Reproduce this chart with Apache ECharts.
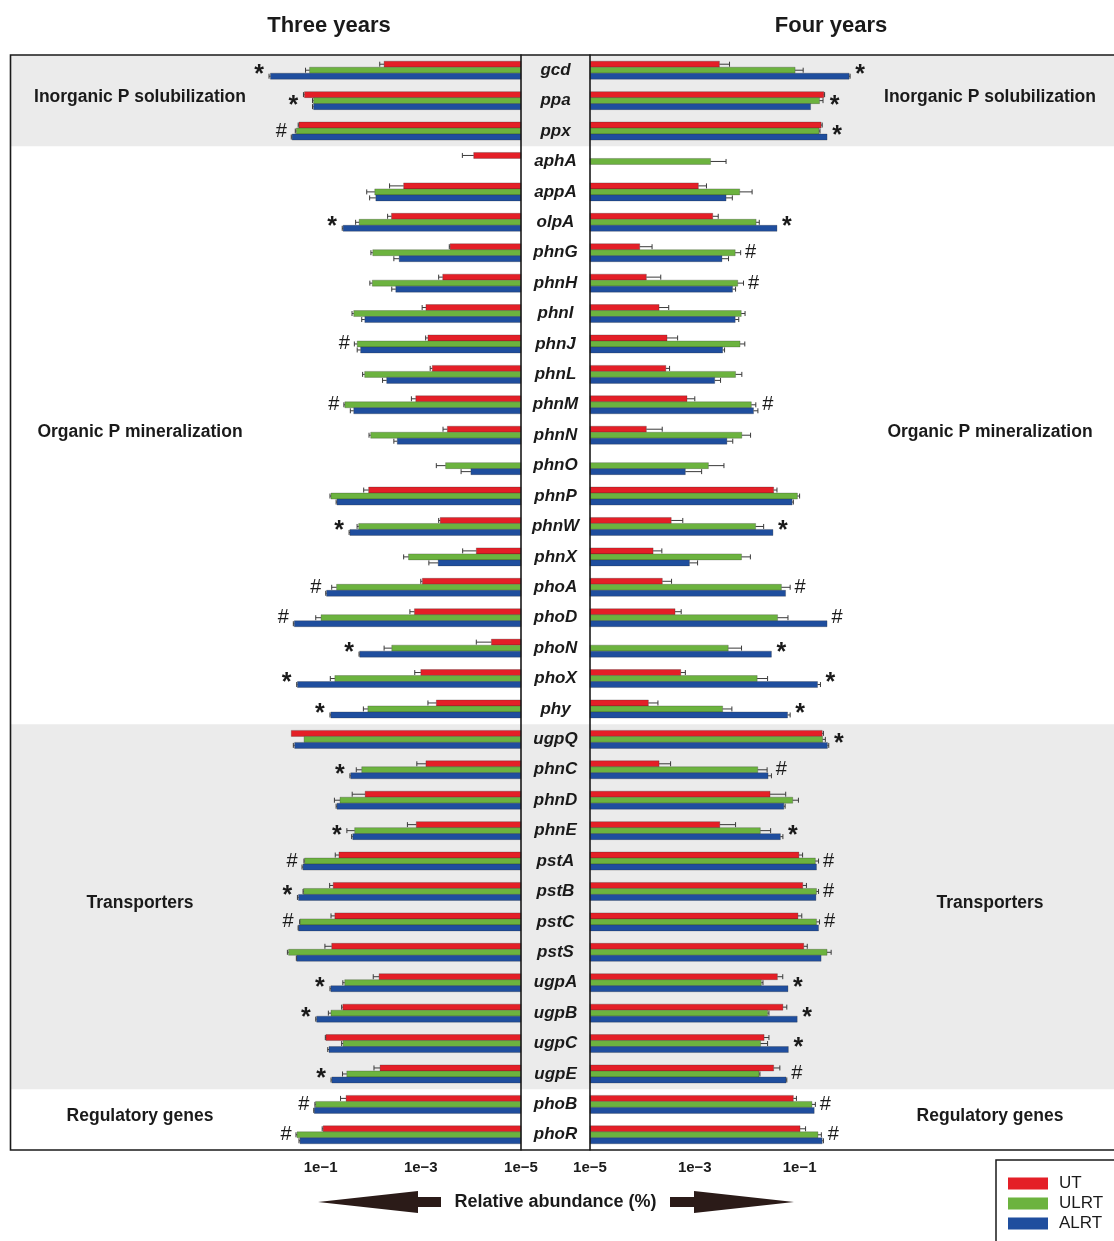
<!DOCTYPE html>
<html><head><meta charset="utf-8">
<script src="https://cdn.jsdelivr.net/npm/echarts@6/dist/echarts.min.js"></script>
<style>html,body{margin:0;padding:0;background:#fff}#c{width:1114px;height:1241px}</style>
</head><body><div id="c"></div>
<script>
const genes = ['gcd','ppa','ppx','aphA','appA','olpA','phnG','phnH','phnI','phnJ','phnL','phnM','phnN','phnO','phnP','phnW','phnX','phoA','phoD','phoN','phoX','phy','ugpQ','phnC','phnD','phnE','pstA','pstB','pstC','pstS','ugpA','ugpB','ugpC','ugpE','phoB','phoR'];
const seriesNames = ['UT','ULRT','ALRT'];
const xTickValues = [1e-5, 1e-3, 1e-1];

// Three years (left panel): mean relative abundance (%) and upper error
const UT3 = [0.0054,0.21,0.27,8.8e-5,2.2e-3,3.85e-3,2.6e-4,3.65e-4,7.9e-4,7.2e-4,5.9e-4,1.26e-3,2.95e-4,null,0.011,4.1e-4,7.8e-5,9.3e-4,1.34e-3,3.9e-5,1.0e-3,4.9e-4,0.385,7.9e-4,0.0129,1.23e-3,0.043,0.056,0.052,0.060,6.8e-3,0.036,0.0785,6.5e-3,0.031,0.089];
const UT3err = [0.0012,0.01,0.01,6e-5,2.0e-3,7.5e-4,1e-5,7.5e-5,1.5e-4,8e-5,6e-5,2.8e-4,6.5e-5,null,0.0028,3e-5,6.8e-5,7e-5,3.1e-4,3.9e-5,3.2e-4,2.3e-4,0,4.1e-4,0.0105,6.2e-4,0.008,0.010,0.010,0.022,2.1e-3,0.002,0.002,2.1e-3,0.009,0.004];
const ULRT3 = [0.166,0.138,0.305,null,8.3e-3,0.017,9.1e-3,9.3e-3,0.0218,0.0186,0.0132,0.0328,0.010,3.2e-4,0.062,0.0174,1.76e-3,0.048,0.098,3.8e-3,0.052,0.0114,0.214,0.0151,0.041,0.0209,0.209,0.219,0.257,0.436,0.033,0.062,0.0355,0.030,0.126,0.295];
const ULRT3err = [0.034,0.007,0.015,null,3.7e-3,0.003,8e-4,1.1e-3,1.8e-3,2.6e-3,1.3e-3,1.5e-3,8e-4,1.7e-4,0.003,1.3e-3,4.4e-4,0.012,0.027,1.6e-3,0.012,2.6e-3,0,4.3e-3,0.012,9e-3,0.006,0.005,0.005,0.024,0.003,0.008,0.0025,0.0065,0.004,0.015];
const ALRT3 = [1.0,0.138,0.37,null,7.9e-3,0.0355,2.7e-3,3.16e-3,0.0131,0.0159,4.8e-3,0.0218,2.95e-3,1.0e-4,0.047,0.026,4.5e-4,0.076,0.335,0.0166,0.29,0.0624,0.33,0.025,0.047,0.0228,0.224,0.276,0.276,0.30,0.0624,0.12,0.068,0.0596,0.134,0.257];
const ALRT3err = [0.07,0.007,0.015,null,2.6e-3,0.0015,7.5e-4,6.4e-4,2e-3,2.7e-3,1e-3,3.7e-3,5e-4,5.7e-5,0.002,0.001,2.4e-4,0.003,0.015,0.0005,0.01,0.0026,0.02,0.001,0.002,0.0012,0.011,0.014,0.005,0.005,0.0026,0.005,0.004,0.0024,0.003,0.013];
const marks3 = ['*','*','#','','','*','','','','#','','#','','','','*','','#','#','*','*','*','','*','','*','#','*','#','','*','*','','*','#','#'];

// Four years (right panel)
const UT4 = [2.95e-3,0.29,0.257,null,1.17e-3,2.2e-3,8.9e-5,1.19e-4,2.08e-4,2.95e-4,2.8e-4,7.1e-4,1.19e-4,null,0.032,3.55e-4,1.6e-4,2.4e-4,4.2e-4,null,5.4e-4,1.3e-4,0.27,2.08e-4,0.0273,3.0e-3,0.097,0.115,0.093,0.12,0.0377,0.048,0.021,0.032,0.076,0.102];
const UT4err = [1.65e-3,0.01,0.013,null,5e-4,6e-4,6.4e-5,1.05e-4,1.1e-4,1.75e-4,5e-5,2.9e-4,1.2e-4,null,0.005,2.35e-4,7.5e-5,1.2e-4,1.3e-4,null,1.2e-4,6.8e-5,0.015,1.37e-4,0.027,3.0e-3,0.017,0.02,0.017,0.02,0.01,0.009,0.005,0.01,0.011,0.028];
const ULRT4 = [0.082,0.24,0.234,2.0e-3,7.2e-3,0.0148,5.9e-3,6.6e-3,7.7e-3,7.3e-3,6.0e-3,0.012,7.9e-3,1.82e-3,0.091,0.0145,7.8e-3,0.045,0.038,4.35e-3,0.0155,3.4e-3,0.275,0.0159,0.074,0.0178,0.20,0.21,0.21,0.334,0.0186,0.0245,0.018,0.0168,0.172,0.224];
const ULRT4err = [0.035,0.04,0.011,1.95e-3,5.2e-3,0.0022,1.6e-3,1.9e-3,1.4e-3,1.7e-3,1.9e-3,0.0026,3.7e-3,1.78e-3,0.009,0.0061,3.7e-3,0.021,0.022,3.45e-3,0.009,1.7e-3,0.035,0.0081,0.021,0.0102,0.03,0.02,0.03,0.066,0.0014,0.0015,0.0065,0.0007,0.028,0.036];
const ALRT4 = [0.88,0.162,0.334,null,3.95e-3,0.037,3.3e-3,5.25e-3,5.9e-3,3.4e-3,2.4e-3,0.0132,4.1e-3,6.6e-4,0.072,0.031,7.9e-4,0.054,0.334,0.029,0.22,0.059,0.34,0.025,0.050,0.043,0.21,0.205,0.23,0.257,0.060,0.090,0.061,0.055,0.19,0.27];
const ALRT4err = [0.04,0,0,null,1.25e-3,0,1.1e-3,7.5e-4,1e-3,3e-4,7e-4,0.0028,1.2e-3,6.9e-4,0.004,0,3.4e-4,0,0,0,0.03,0.007,0.02,0.004,0.003,0.005,0,0,0,0,0,0,0,0.002,0,0.015];
const marks4 = ['*','*','*','','','*','#','#','','','','#','','','','*','','#','#','*','*','*','*','#','','*','#','#','#','','*','*','*','#','#','#'];

// Functional groups
const groupNames = ['Inorganic P solubilization','Organic P mineralization','Transporters','Regulatory genes'];
const groupFirst = ['gcd','aphA','ugpQ','phoB'];
const groupLast = ['ppx','phy','ugpE','phoR'];
const groupShaded = [true,false,true,false];

const COLORS = ['#e41f27','#6cb33f','#1f4e9e'];
const AXIS_MIN = 1e-5, AXIS_MAX = 1e5;
const BAR_H = 6;
const FONT = '"Liberation Sans", Arial, Helvetica, sans-serif';

function barRender(si){
  return function(params, api){
    const idx = api.value(0), v = api.value(1), e = api.value(2);
    const end = api.coord([v, idx]);
    const base = api.coord([AXIS_MIN, idx]);
    const yc = end[1] + (si - 1) * BAR_H;
    const x0 = Math.min(base[0], end[0]);
    const w = Math.abs(end[0] - base[0]);
    const ch = [{type:'rect', shape:{x:x0, y:yc - BAR_H/2, width:w, height:BAR_H},
      style:{fill: api.visual('color'), stroke:'rgba(40,40,40,0.45)', lineWidth:0.6}}];
    if (e > 0) {
      const ce = api.coord([v + e, idx]);
      ch.push({type:'line', shape:{x1:end[0], y1:yc, x2:ce[0], y2:yc}, style:{stroke:'#3a3a3a', lineWidth:1}});
      ch.push({type:'line', shape:{x1:ce[0], y1:yc-2.5, x2:ce[0], y2:yc+2.5}, style:{stroke:'#3a3a3a', lineWidth:1}});
    }
    return {type:'group', children:ch};
  };
}

function markRender(marks, dir){
  return function(params, api){
    const idx = api.value(0);
    const p = api.coord([api.value(1), idx]);
    const m = marks[idx];
    const star = m === '*';
    return {type:'text', x: p[0] + dir * 10, y: p[1] + (star ? 5 : 0),
      style:{text:m, align:'center', verticalAlign:'middle', fill:'#1a1a1a',
        font: (star ? 'bold 25px ' : 'normal 20px ') + FONT}};
  };
}

const panels = [
  {vals:[UT3, ULRT3, ALRT3], errs:[UT3err, ULRT3err, ALRT3err], marks:marks3, dir:-1},
  {vals:[UT4, ULRT4, ALRT4], errs:[UT4err, ULRT4err, ALRT4err], marks:marks4, dir:1}
];

const series = [];
// background bands and group labels
series.push({
  type:'custom', name:'groups', xAxisIndex:2, yAxisIndex:2, z:0, silent:true,
  data: groupNames.map((n, i) => [genes.indexOf(groupFirst[i]), genes.indexOf(groupLast[i])]),
  encode:{y:[0,1]},
  renderItem(params, api){
    const cs = params.coordSys;
    const gi = params.dataIndex;
    const band = api.size([0, 1])[1];
    const y0 = api.coord([0, api.value(0)])[1] - band/2;
    const y1 = api.coord([0, api.value(1)])[1] + band/2;
    const ym = (y0 + y1)/2 - 3;
    const font = 'bold 17.5px ' + FONT;
    const ch = [];
    if (groupShaded[gi]) ch.push({type:'rect', shape:{x:cs.x, y:y0, width:cs.width, height:y1-y0}, style:{fill:'#ebebeb'}});
    ch.push({type:'text', x: cs.x + 130, y: ym, style:{text:groupNames[gi], align:'center', verticalAlign:'middle', font, fill:'#1a1a1a'}});
    ch.push({type:'text', x: cs.x + cs.width - 124, y: ym, style:{text:groupNames[gi], align:'center', verticalAlign:'middle', font, fill:'#1a1a1a'}});
    return {type:'group', children:ch};
  }
});
// frame
series.push({
  type:'custom', name:'frame', xAxisIndex:2, yAxisIndex:2, z:6, silent:true,
  data:[[0]],
  renderItem(params){
    const cs = params.coordSys;
    return {type:'rect', shape:{x:cs.x + 0.5, y:cs.y, width:cs.width + 10, height:cs.height}, style:{fill:null, stroke:'#1a1a1a', lineWidth:1.6}};
  }
});

panels.forEach((p, pi) => {
  for (let si = 0; si < 3; si++) {
    const data = [];
    genes.forEach((g, i) => { if (p.vals[si][i] != null) data.push([i, p.vals[si][i], p.errs[si][i] || 0]); });
    series.push({
      type:'custom', name:seriesNames[si], xAxisIndex:pi, yAxisIndex:pi, z:2,
      itemStyle:{color:COLORS[si]}, encode:{x:1, y:0}, clip:false,
      renderItem: barRender(si), data
    });
  }
  const mdata = [];
  genes.forEach((g, i) => {
    if (!p.marks[i]) return;
    let mx = 0;
    for (let si = 0; si < 3; si++) if (p.vals[si][i] != null) mx = Math.max(mx, p.vals[si][i] + (p.errs[si][i] || 0));
    mdata.push([i, mx]);
  });
  series.push({type:'custom', name:'sig' + pi, xAxisIndex:pi, yAxisIndex:pi, z:4, clip:false,
    encode:{x:1, y:0}, renderItem: markRender(p.marks, p.dir), data: mdata});
});

const fmt = v => { const e = Math.round(Math.log10(v)); return '1e' + (e < 0 ? '\u2212' + (-e) : e); };
function xAxisFor(gi, inverse){
  return {
    type:'log', gridIndex:gi, min:AXIS_MIN, max:AXIS_MAX, logBase:10, inverse, z:5,
    axisLine:{lineStyle:{color:'#1a1a1a', width:1.6}},
    axisTick:{length:7, lineStyle:{color:'#1a1a1a', width:1.6}, customValues:xTickValues},
    axisLabel:{customValues:xTickValues, formatter:fmt, color:'#1a1a1a', fontFamily:FONT, fontWeight:'bold', fontSize:15, margin:10},
    splitLine:{show:false}, minorTick:{show:false}
  };
}

const option = {
  animation:false,
  backgroundColor:'#ffffff',
  grid:[
    {left:20, right:593, top:55, bottom:91},
    {left:590, right:0, top:55, bottom:91},
    {left:10, right:0, top:55, bottom:91}
  ],
  xAxis:[
    xAxisFor(0, true),
    xAxisFor(1, false),
    {type:'value', gridIndex:2, min:0, max:1, show:false}
  ],
  yAxis:[
    {type:'category', gridIndex:0, data:genes, inverse:true, position:'right', z:5,
      axisLine:{lineStyle:{color:'#1a1a1a', width:1.6}},
      axisTick:{length:5, lineStyle:{color:'#1a1a1a', width:1.6}},
      axisLabel:{show:false}},
    {type:'category', gridIndex:1, data:genes, inverse:true, position:'left', z:5,
      axisLine:{lineStyle:{color:'#1a1a1a', width:1.6}},
      axisTick:{length:5, lineStyle:{color:'#1a1a1a', width:1.6}},
      axisLabel:{align:'center', margin:34.5, padding:[7,0,0,0], fontFamily:FONT, fontWeight:'bold', fontStyle:'italic', fontSize:17, color:'#1a1a1a'}},
    {type:'category', gridIndex:2, data:genes, inverse:true, show:false}
  ],
  legend:{
    data:seriesNames, orient:'vertical', left:996, top:1160, height:140, icon:'rect',
    itemWidth:40, itemHeight:12, itemGap:3, padding:[15, 60, 40, 12],
    borderColor:'#1a1a1a', borderWidth:1.5, selectedMode:false,
    textStyle:{fontFamily:FONT, fontSize:17, color:'#1a1a1a', padding:[0,0,0,6]}
  },
  graphic:[
    {type:'text', x:329, y:26, style:{text:'Three years', align:'center', verticalAlign:'middle', font:'bold 22px ' + FONT, fill:'#1a1a1a'}},
    {type:'text', x:831, y:26, style:{text:'Four years', align:'center', verticalAlign:'middle', font:'bold 22px ' + FONT, fill:'#1a1a1a'}},
    {type:'text', x:555.5, y:1202, style:{text:'Relative abundance (%)', align:'center', verticalAlign:'middle', font:'bold 18px ' + FONT, fill:'#1a1a1a'}},
    {type:'polygon', shape:{points:[[318,1202],[418,1191],[418,1197],[441,1197],[441,1207],[418,1207],[418,1213]]}, style:{fill:'#2b1b18'}},
    {type:'polygon', shape:{points:[[794,1202],[694,1191],[694,1197],[670,1197],[670,1207],[694,1207],[694,1213]]}, style:{fill:'#2b1b18'}}
  ],
  series
};

const chart = echarts.init(document.getElementById('c'), null, {renderer:'canvas'});
chart.setOption(option);
</script>
</body></html>
